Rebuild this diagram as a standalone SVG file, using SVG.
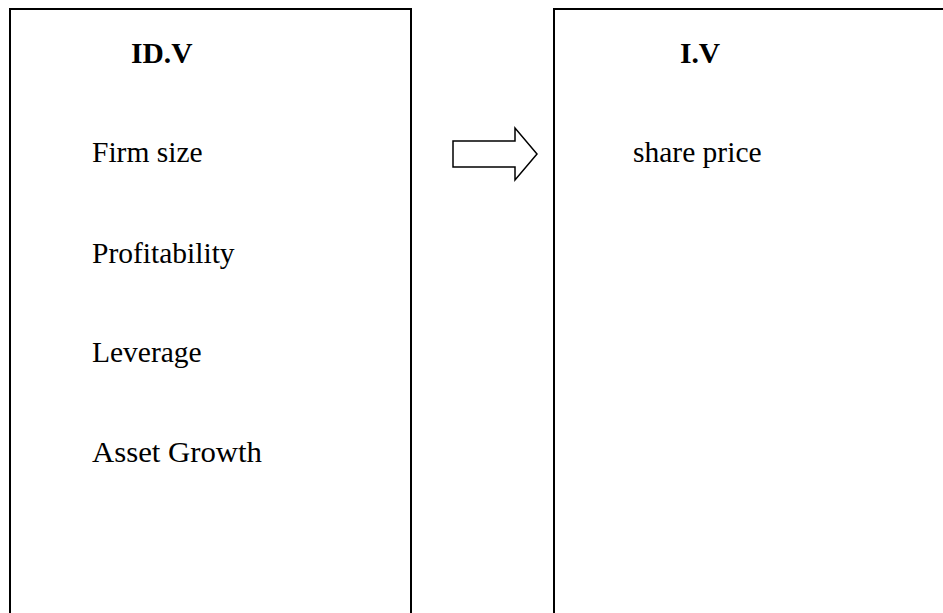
<svg xmlns="http://www.w3.org/2000/svg" width="943" height="613" viewBox="0 0 943 613">
<style>
.box{fill:none;stroke:#000;stroke-width:2}
.t{font-family:"Liberation Serif","Times New Roman",serif;font-size:29.5px;fill:#000}
.b{font-weight:bold}
.arr{fill:#fff;stroke:#000;stroke-width:1.5;stroke-linejoin:miter}
</style>
<rect width="943" height="613" fill="#fff"/>
<g id="idv">
<path class="box" d="M10,613 V9 H411 V613"/>
<text class="t b" x="131" y="63">ID.V</text>
<text class="t" x="92" y="162">Firm size</text>
<text class="t" x="92" y="263">Profitability</text>
<text class="t" x="92" y="362">Leverage</text>
<text class="t" x="92" y="462" textLength="170" lengthAdjust="spacingAndGlyphs">Asset Growth</text>
</g>
<g id="iv">
<path class="box" d="M554,613 V9 H945"/>
<text class="t b" x="680" y="63">I.V</text>
<text class="t" x="633" y="162">share price</text>
</g>
<g id="connectors">
<polygon class="arr" points="453,141 515,141 515,128 537,154 515,180 515,167 453,167"/>
</g>
</svg>
